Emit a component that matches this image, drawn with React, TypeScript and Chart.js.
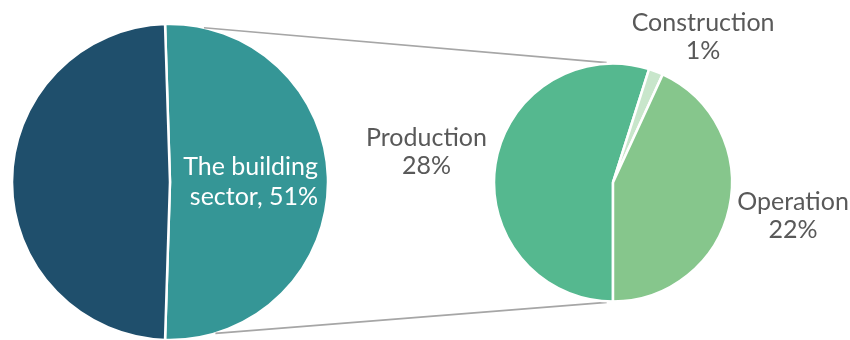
import React, { useEffect, useRef } from "react";
import { Chart, registerables } from "chart.js";

Chart.register(...registerables);

// ---- data ----
const sectorLabels = ["The building sector", "Other sectors"];
const sectorValues = [51, 49];
const sectorColors = ["#359696", "#1f4f6c"];

const buildingLabels = ["Production", "Construction", "Operation"];
const buildingValues = [28, 1, 22];
const buildingColors = ["#55b88f", "#c8e6cb", "#86c68c"];

const FONT = "Lato, 'Open Sans', sans-serif";
const FONT_SIZE = 25;
const TEXT_GREY = "#595959";
const LINE_GREY = "#a6a6a6";

const W = 850;
const H = 340;

// label placement relative to each slice centre (angle deg from top clockwise, distance in radii)
const buildingLabelPolar: [number, number][] = [
  [279.6, 1.59],
  [31.6, 1.445],
  [100.2, 1.537],
];

function polar(cx: number, cy: number, r: number, deg: number) {
  const a = (deg * Math.PI) / 180;
  return { x: cx + r * Math.sin(a), y: cy - r * Math.cos(a) };
}

export default function App() {
  const ref1 = useRef<HTMLCanvasElement>(null);
  const ref2 = useRef<HTMLCanvasElement>(null);

  useEffect(() => {
    const share = sectorValues[0] / sectorValues.reduce((a, b) => a + b, 0);

    const leftLabelPlugin = {
      id: "leftLabel",
      afterDatasetsDraw(chart: any) {
        const arc = chart.getDatasetMeta(0).data[0] as any;
        const { x, y, outerRadius } = arc.getProps(["x", "y", "outerRadius"], true);
        const ctx = chart.ctx;
        ctx.save();
        ctx.fillStyle = "#ffffff";
        ctx.font = `${FONT_SIZE}px ${FONT}`;
        ctx.textAlign = "right";
        ctx.textBaseline = "alphabetic";
        const rx = x + outerRadius * 0.937;
        ctx.fillText("The building", rx, y - 7);
        ctx.fillText(`sector, ${sectorValues[0]}%`, rx, y + 22.5);
        ctx.restore();
      },
    };

    const chart1 = new Chart(ref1.current!, {
      type: "pie",
      data: {
        labels: sectorLabels,
        datasets: [
          {
            data: sectorValues,
            backgroundColor: sectorColors,
            borderColor: "#ffffff",
            borderWidth: 2.5,
          },
        ],
      },
      options: {
        responsive: false,
        animation: false,
        devicePixelRatio: 1,
        rotation: 90 - share * 180,
        radius: 158,
        layout: { padding: { left: 11, right: W - 329, top: 24, bottom: 0 } },
        plugins: { legend: { display: false }, tooltip: { enabled: false } },
      } as any,
      plugins: [leftLabelPlugin],
    });

    const overlayPlugin = {
      id: "overlay",
      beforeDatasetsDraw(chart: any) {
        const a1 = chart1.getDatasetMeta(0).data[0] as any;
        const p1 = a1.getProps(["x", "y", "outerRadius"], true);
        const a2 = chart.getDatasetMeta(0).data[0] as any;
        const p2 = a2.getProps(["x", "y", "outerRadius"], true);
        const ctx = chart.ctx;
        ctx.save();
        ctx.strokeStyle = LINE_GREY;
        ctx.lineWidth = 1.6;
        const s1 = polar(p1.x, p1.y, p1.outerRadius, 12.4);
        const e1 = polar(p2.x, p2.y, p2.outerRadius + 1, 357);
        const s2 = polar(p1.x, p1.y, p1.outerRadius, 163.3);
        const e2 = polar(p2.x, p2.y, p2.outerRadius + 1, 183);
        ctx.beginPath();
        ctx.moveTo(s1.x, s1.y);
        ctx.lineTo(e1.x, e1.y);
        ctx.moveTo(s2.x, s2.y);
        ctx.lineTo(e2.x, e2.y);
        ctx.stroke();
        ctx.restore();
      },
      afterDatasetsDraw(chart: any) {
        const meta = chart.getDatasetMeta(0);
        const ctx = chart.ctx;
        const total = sectorValues.reduce((a, b) => a + b, 0);
        ctx.save();
        ctx.fillStyle = TEXT_GREY;
        ctx.font = `${FONT_SIZE}px ${FONT}`;
        ctx.textAlign = "center";
        ctx.textBaseline = "alphabetic";
        meta.data.forEach((arc: any, i: number) => {
          const p = arc.getProps(["x", "y", "outerRadius"], true);
          const [ang, dist] = buildingLabelPolar[i];
          const pos = polar(p.x, p.y, p.outerRadius * dist, ang);
          const pct = Math.round((buildingValues[i] / total) * 100);
          ctx.fillText(buildingLabels[i], pos.x, pos.y - 5);
          ctx.fillText(`${pct}%`, pos.x, pos.y + 23);
        });
        ctx.restore();
      },
    };

    const chart2 = new Chart(ref2.current!, {
      type: "pie",
      data: {
        labels: buildingLabels,
        datasets: [
          {
            data: buildingValues,
            backgroundColor: buildingColors,
            borderColor: "#ffffff",
            borderWidth: 2.5,
          },
        ],
      },
      options: {
        responsive: false,
        animation: false,
        devicePixelRatio: 1,
        rotation: 180,
        radius: 119,
        layout: { padding: { left: 493, right: 117, top: 63, bottom: 38 } },
        plugins: { legend: { display: false }, tooltip: { enabled: false } },
      } as any,
      plugins: [overlayPlugin],
    });

    return () => {
      chart2.destroy();
      chart1.destroy();
    };
  }, []);

  return (
    <div
      style={{
        position: "fixed",
        left: 0,
        top: 0,
        width: W,
        height: H,
        background: "#ffffff",
        overflow: "hidden",
      }}
    >
      <canvas
        ref={ref1}
        width={W}
        height={H}
        style={{ position: "absolute", left: 0, top: 0, width: W, height: H }}
      />
      <canvas
        ref={ref2}
        width={W}
        height={H}
        style={{ position: "absolute", left: 0, top: 0, width: W, height: H }}
      />
    </div>
  );
}
